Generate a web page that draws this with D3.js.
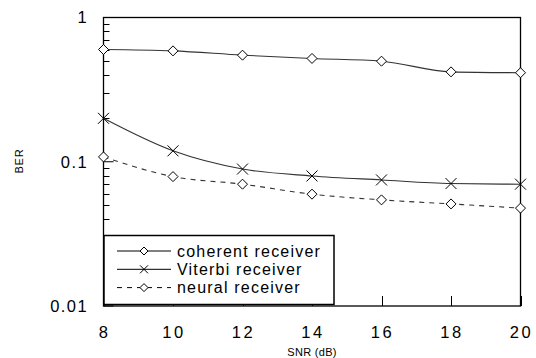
<!DOCTYPE html>
<html><head><meta charset="utf-8">
<script src="https://cdn.jsdelivr.net/npm/d3@7"></script>
<style>
html,body{margin:0;padding:0;background:#fff;}
svg{display:block;font-family:"Liberation Sans",Arial,sans-serif;}
</style></head>
<body><svg id="c" width="536" height="358"></svg>
<script>
const snr = [8, 10, 12, 14, 16, 18, 20];
const coherent = [0.60, 0.587, 0.548, 0.52, 0.498, 0.42, 0.414];
const viterbi = [0.20, 0.119, 0.089, 0.0797, 0.0748, 0.0706, 0.0699];
const neural = [0.108, 0.0789, 0.0699, 0.0596, 0.0544, 0.051, 0.0477];
const xTicks = [8, 10, 12, 14, 16, 18, 20];
const yTicks = [1, 0.1, 0.01];
const yTickLabels = ["1", "0.1", "0.01"];
const seriesNames = ["coherent receiver", "Viterbi receiver", "neural receiver"];

const svg = d3.select("#c");
const L = 103.5, R = 520.5, T = 17.5, B = 306;
const x = d3.scaleLinear().domain([8, 20]).range([L, R]);
const y = d3.scaleLog().domain([0.01, 1]).range([B, T]);

// frame
svg.append("rect").attr("x", L).attr("y", T).attr("width", R - L).attr("height", B - T)
  .attr("fill", "none").attr("stroke", "#000").attr("stroke-width", 1.3);

// y minor ticks
const minor = [];
for (let d = 0.01; d < 1; d *= 10) for (let k = 2; k <= 9; k++) minor.push(d * k);
svg.append("g").selectAll("line").data(minor).join("line")
  .attr("x1", L).attr("x2", L + 6).attr("y1", d => Math.round(y(d)) + 0.5).attr("y2", d => Math.round(y(d)) + 0.5)
  .attr("stroke", "#000").attr("stroke-width", 1);
svg.append("g").selectAll("line").data(yTicks).join("line")
  .attr("x1", L).attr("x2", L + 10).attr("y1", d => y(d)).attr("y2", d => y(d))
  .attr("stroke", "#000").attr("stroke-width", 1);
// y labels
svg.append("g").selectAll("text").data(yTicks).join("text")
  .attr("x", 88).attr("y", d => y(d)).attr("dy", "0.36em")
  .attr("text-anchor", "end").attr("font-size", 16.5).attr("letter-spacing", 1.4)
  .text((d, i) => yTickLabels[i]);

// x ticks
svg.append("g").selectAll("line").data(xTicks).join("line")
  .attr("x1", d => Math.round(x(d)) + 0.5).attr("x2", d => Math.round(x(d)) + 0.5)
  .attr("y1", B).attr("y2", B - 10).attr("stroke", "#000");
svg.append("g").selectAll("text").data(xTicks).join("text")
  .attr("x", d => x(d) + 1).attr("y", 337.5).attr("text-anchor", "middle")
  .attr("font-size", 16.5).attr("letter-spacing", 2.5).text(d => d);

// axis titles
svg.append("text").attr("x", 312).attr("y", 355.5).attr("text-anchor", "middle")
  .attr("font-size", 11).attr("letter-spacing", 0.3).text("SNR (dB)");
svg.append("text").attr("transform", "translate(23,161) rotate(-90)").attr("text-anchor", "middle")
  .attr("font-size", 11).attr("letter-spacing", 0.8).text("BER");

const line = d3.line().x((d, i) => x(snr[i])).y(d => y(d)).curve(d3.curveMonotoneX);
const data = [coherent, viterbi, neural];
const dash = [null, null, "5,5"];
const marker = ["diamond", "x", "diamond"];

function drawMarker(g, type, cx, cy) {
  if (type === "diamond") {
    g.append("path").attr("d", `M${cx},${cy - 5}L${cx + 5},${cy}L${cx},${cy + 5}L${cx - 5},${cy}Z`)
      .attr("fill", "#fff").attr("stroke", "#000").attr("stroke-width", 1);
  } else {
    g.append("path").attr("d", `M${cx - 5.5},${cy - 5.5}L${cx + 5.5},${cy + 5.5}M${cx - 5.5},${cy + 5.5}L${cx + 5.5},${cy - 5.5}`)
      .attr("stroke", "#000").attr("stroke-width", 1);
  }
}

data.forEach((s, k) => {
  svg.append("path").attr("d", line(s)).attr("fill", "none")
    .attr("stroke", "#333").attr("stroke-width", 1.1)
    .attr("stroke-dasharray", dash[k]);
  const g = svg.append("g");
  s.forEach((v, i) => drawMarker(g, marker[k], x(snr[i]), y(v)));
});

// legend
const lg = svg.append("g");
lg.append("rect").attr("x", 104).attr("y", 235.5).attr("width", 230).attr("height", 69)
  .attr("fill", "#fff").attr("stroke", "#000").attr("stroke-width", 1.5);
seriesNames.forEach((n, k) => {
  const yy = 251 + k * 18.3;
  lg.append("line").attr("x1", 117).attr("x2", 171).attr("y1", yy).attr("y2", yy)
    .attr("stroke", "#000").attr("stroke-width", 1).attr("stroke-dasharray", dash[k]);
  if (marker[k] === "diamond") {
    lg.append("path").attr("d", `M144,${yy - 4}L148,${yy}L144,${yy + 4}L140,${yy}Z`)
      .attr("fill", "#fff").attr("stroke", "#000");
  } else {
    lg.append("path").attr("d", `M140,${yy - 4}L148,${yy + 4}M140,${yy + 4}L148,${yy - 4}`).attr("stroke", "#000");
  }
  lg.append("text").attr("x", 177).attr("y", yy).attr("dy", "0.36em")
    .attr("font-size", 16).attr("letter-spacing", 1.2).text(n);
});
</script></body></html>
